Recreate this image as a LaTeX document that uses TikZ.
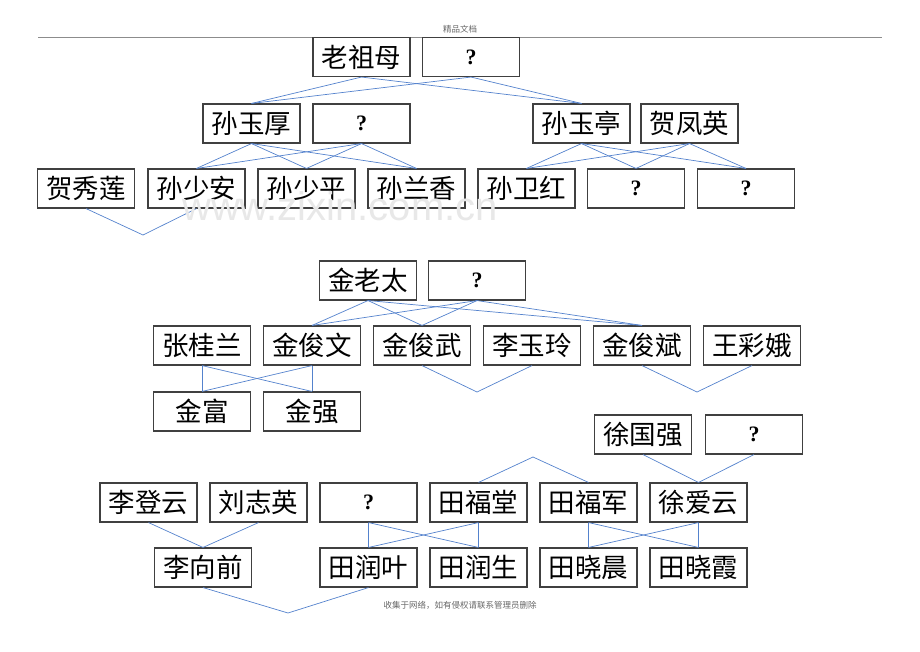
\documentclass[tikz,border=0pt]{standalone}
\usepackage{fontspec}
\setmainfont{Liberation Serif}
\newfontfamily\cjk{Noto Sans CJK SC}
\newfontfamily\wmfont{Liberation Sans}
\usepackage{tikz}
\definecolor{linkblue}{RGB}{84,130,205}
\tikzset{
  person/.style={draw=black!75, line width=1.1pt, fill=white, minimum width=97pt,
    minimum height=39pt, inner sep=0pt, font=\cjk\fontsize{26.5}{26.5}\selectfont},
  unknown/.style={person, font=\bfseries\fontsize{22}{22}\selectfont},
  link/.style={draw=linkblue, line width=0.7pt},
  small/.style={text=black!60, font=\cjk\fontsize{8.5}{8.5}\selectfont}
}

\begin{document}
\begin{tikzpicture}[x=1pt,y=-1pt]
\useasboundingbox (0,0) rectangle (920,651);
% page header and footer
\coordinate (hl) at (38,37);
\coordinate (hr) at (882,37);
\draw[black!45, line width=0.8pt] (hl) -- (hr);
\node[small] (head) at (460,29) {精品文档};
\node[small] (foot) at (460,605) {收集于网络，如有侵权请联系管理员删除};

% family of lao zumu
\node[person] (lzm) at (361.5,57) {老祖母};
\node[unknown] (q1) at (471,57) {?};
\node[person] (syh) at (251.5,123.5) {孙玉厚};
\node[unknown] (q2) at (361.5,123.5) {?};
\node[person] (syt) at (581.5,123.5) {孙玉亭};
\node[person] (hfy) at (689.5,123.5) {贺凤英};
\node[person] (hxl) at (86,188.5) {贺秀莲};
\node[person] (ssa) at (196.5,188.5) {孙少安};
\node[person] (ssp) at (306.5,188.5) {孙少平};
\node[person] (slx) at (416.5,188.5) {孙兰香};
\node[person] (swh) at (526.5,188.5) {孙卫红};
\node[unknown] (q3) at (636,188.5) {?};
\node[unknown] (q4) at (746,188.5) {?};
\coordinate (v1) at (143,235);

\foreach \p in {lzm,q1}
  \foreach \c in {syh,syt}
    \draw[link] (\p.south) -- (\c.north);
\foreach \p in {syh,q2}
  \foreach \c in {ssa,ssp,slx}
    \draw[link] (\p.south) -- (\c.north);
\foreach \p in {syt,hfy}
  \foreach \c in {swh,q3,q4}
    \draw[link] (\p.south) -- (\c.north);
\draw[link] (hxl.south) -- (v1) -- (ssa.south);

% family of jin laotai
\node[person] (jlt) at (368,280.5) {金老太};
\node[unknown] (q5) at (477,280.5) {?};
\node[person] (zgl) at (202,345.5) {张桂兰};
\node[person] (jjw) at (312,345.5) {金俊文};
\node[person] (jjwu) at (422,345.5) {金俊武};
\node[person] (lyl) at (532,345.5) {李玉玲};
\node[person] (jjb) at (642,345.5) {金俊斌};
\node[person] (wce) at (752,345.5) {王彩娥};
\node[person] (jf) at (202,411.5) {金富};
\node[person] (jq) at (312,411.5) {金强};
\coordinate (v2) at (477,392);
\coordinate (v3) at (697,392);

\foreach \p in {jlt,q5}
  \foreach \c in {jjw,jjwu,jjb}
    \draw[link] (\p.south) -- (\c.north);
\foreach \p in {zgl,jjw}
  \foreach \c in {jf,jq}
    \draw[link] (\p.south) -- (\c.north);
\draw[link] (jjwu.south) -- (v2) -- (lyl.south);
\draw[link] (jjb.south) -- (v3) -- (wce.south);

% families li, tian, xu
\node[person] (xgq) at (643,434.5) {徐国强};
\node[unknown] (q6) at (754,434.5) {?};
\node[person] (ldy) at (148.5,502.5) {李登云};
\node[person] (lzy) at (258.5,502.5) {刘志英};
\node[unknown] (q7) at (368.5,502.5) {?};
\node[person] (tft) at (478.5,502.5) {田福堂};
\node[person] (tfj) at (588.5,502.5) {田福军};
\node[person] (xay) at (698.5,502.5) {徐爱云};
\node[person] (lxq) at (203,567.5) {李向前};
\node[person] (try) at (368.5,567.5) {田润叶};
\node[person] (trs) at (478.5,567.5) {田润生};
\node[person] (txc) at (588.5,567.5) {田晓晨};
\node[person] (txx) at (698.5,567.5) {田晓霞};
\coordinate (p1) at (533,457);
\coordinate (v4) at (288,613);

\draw[link] (tft.north) -- (p1) -- (tfj.north);
\foreach \p in {xgq,q6}
  \draw[link] (\p.south) -- (xay.north);
\foreach \p in {ldy,lzy}
  \draw[link] (\p.south) -- (lxq.north);
\foreach \p in {q7,tft}
  \foreach \c in {try,trs}
    \draw[link] (\p.south) -- (\c.north);
\foreach \p in {tfj,xay}
  \foreach \c in {txc,txx}
    \draw[link] (\p.south) -- (\c.north);
\draw[link] (lxq.south) -- (v4) -- (try.south);

% watermark
\node[text=black!9, font=\wmfont\fontsize{40}{40}\selectfont, anchor=base] (wm) at (340,220) {www.zixin.com.cn};
\end{tikzpicture}
\end{document}
